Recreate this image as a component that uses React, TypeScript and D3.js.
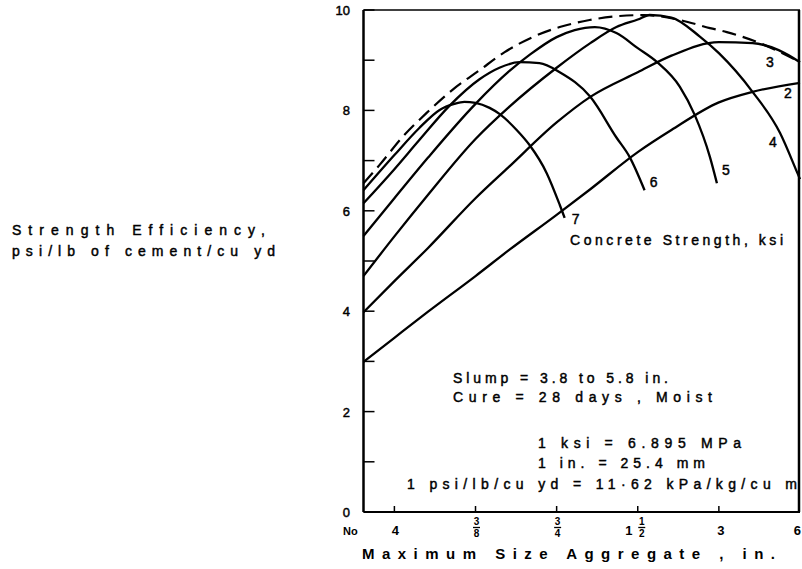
import React from 'react';
import * as d3 from 'd3';

// maximum size aggregate (in.) on the log axis
const sizeTicks = [0.1875, 0.375, 0.75, 1.5, 3, 6];
const valueTicks = [0, 1, 2, 3, 4, 5, 6, 7, 8, 9, 10];
const valueLabels = [0, 2, 4, 6, 8, 10];

// strength efficiency (psi/lb of cement/cu yd) for each concrete strength, ksi
const curve2: [number, number][] = [[0.144, 2.99], [0.1875, 3.47], [0.25, 3.99], [0.375, 4.70], [0.5, 5.22], [0.75, 5.92], [1.0, 6.43], [1.5, 7.17], [2.0, 7.61], [3.0, 8.16], [4.0, 8.37], [6.0, 8.55]];
const curve3: [number, number][] = [[0.144, 3.98], [0.1875, 4.60], [0.25, 5.26], [0.375, 6.25], [0.5, 6.88], [0.75, 7.76], [1.0, 8.27], [1.5, 8.76], [2.0, 9.09], [3.0, 9.36], [4.0, 9.34], [5.0, 9.2], [6.0, 8.96]];
const curve4: [number, number][] = [[0.144, 4.70], [0.1875, 5.49], [0.25, 6.32], [0.375, 7.43], [0.5, 8.07], [0.75, 8.85], [1.0, 9.34], [1.25, 9.66], [1.5, 9.81], [1.66, 9.90], [2.0, 9.85], [2.55, 9.47], [3.0, 9.14], [4.0, 8.37], [5.06, 7.55], [5.85, 6.77], [6.0, 6.63]];
const curve5: [number, number][] = [[0.144, 5.50], [0.1875, 6.25], [0.25, 7.06], [0.375, 8.13], [0.5, 8.78], [0.6, 9.12], [0.75, 9.46], [0.875, 9.60], [1.04, 9.66], [1.25, 9.54], [1.5, 9.24], [1.77, 8.96], [2.15, 8.47], [2.44, 7.91], [2.78, 7.07], [2.95, 6.55]];
const curve6: [number, number][] = [[0.144, 6.15], [0.1875, 6.83], [0.232, 7.41], [0.30, 8.09], [0.388, 8.62], [0.46, 8.85], [0.546, 8.96], [0.648, 8.94], [0.77, 8.76], [1.0, 8.27], [1.25, 7.46], [1.4, 7.07], [1.59, 6.41]];
const curve7: [number, number][] = [[0.144, 6.41], [0.1875, 7.11], [0.232, 7.65], [0.276, 8.01], [0.313, 8.13], [0.341, 8.17], [0.375, 8.15], [0.423, 8.05], [0.46, 7.93], [0.533, 7.61], [0.595, 7.31], [0.689, 6.75], [0.77, 6.12], [0.803, 5.86]];
// dashed envelope over all strengths
const envelope: [number, number][] = [[0.144, 6.55], [0.165, 6.91], [0.201, 7.47], [0.247, 7.95], [0.308, 8.41], [0.388, 8.80], [0.481, 9.16], [0.611, 9.46], [0.77, 9.66], [0.994, 9.80], [1.286, 9.88], [1.59, 9.90], [2.149, 9.80], [2.78, 9.64], [3.21, 9.56], [4.26, 9.34], [6.0, 8.96]];

const strengths = [2, 3, 4, 5, 6, 7];
const curves = [curve2, curve3, curve4, curve5, curve6, curve7];

const FONT = 'Liberation Sans, Arial, sans-serif';

const App = () => {
  const W = 802, H = 569;
  const left = 363.5, right = 800, top = 10, bottom = 512;

  const x = d3.scaleLog().base(2).domain([0.144, 6]).range([left, right]);
  const y = d3.scaleLinear().domain([0, 10]).range([bottom, top]);

  const line = d3.line<[number, number]>()
    .x(d => x(d[0]))
    .y(d => y(d[1]))
    .curve(d3.curveMonotoneX);

  // label placement relative to each curve end (px)
  const labelOffset: Record<number, [number, number]> = {
    2: [-12, 15], 3: [-30, 5], 4: [-27, -32], 5: [9, -8], 6: [9, -3], 7: [11, 6]
  };

  const frac = (cx: number, num: string, den: string) => (
    <g key={num + den + cx} fontSize={10} fontWeight="bold" textAnchor="middle">
      <text x={cx} y={525}>{num}</text>
      <line x1={cx - 3.5} x2={cx + 3.5} y1={527.5} y2={527.5} stroke="#000" strokeWidth={1.3} />
      <text x={cx} y={537}>{den}</text>
    </g>
  );

  const heavy = { stroke: '#000', strokeWidth: 0.45 };

  return (
    <svg width={W} height={H} style={{ position: 'absolute', left: 0, top: 0, background: '#fff' }} fontFamily={FONT}>
      {/* frame */}
      <line x1={left} x2={left} y1={top} y2={bottom} stroke="#000" strokeWidth={2.5} />
      <line x1={left} x2={right} y1={bottom} y2={bottom} stroke="#000" strokeWidth={2} />
      <line x1={left} x2={right} y1={top} y2={top} stroke="#000" strokeWidth={1.5} />
      <line x1={right - 1} x2={right - 1} y1={top} y2={bottom} stroke="#000" strokeWidth={2.5} />

      {/* y ticks */}
      {valueTicks.map(v => (
        <line key={'yt' + v} x1={left} x2={left + 11} y1={y(v)} y2={y(v)} stroke="#000" strokeWidth={1.5} />
      ))}
      {valueLabels.map(v => (
        <text key={'yl' + v} x={350} y={y(v) + 5} textAnchor="end" fontSize={13} {...heavy}>{v}</text>
      ))}

      {/* x ticks */}
      {sizeTicks.slice(0, -1).map(s => (
        <line key={'xt' + s} x1={x(s)} x2={x(s)} y1={bottom} y2={bottom - 6} stroke="#000" strokeWidth={1.5} />
      ))}
      <g fontSize={13} fontWeight="bold">
        <text x={343} y={535} fontSize={11}>No</text>
        <text x={x(0.1875) + 1} y={535} textAnchor="middle">4</text>
        {frac(x(0.375) + 1, '3', '8')}
        {frac(x(0.75) + 1, '3', '4')}
        <text x={x(1.5) - 9} y={535} textAnchor="middle">1</text>
        {frac(x(1.5) + 4, '1', '2')}
        <text x={x(3) + 2} y={535} textAnchor="middle">3</text>
        <text x={801} y={535} textAnchor="end">6</text>
      </g>

      {/* envelope */}
      <path d={line(envelope) || ''} fill="none" stroke="#000" strokeWidth={2.2} strokeDasharray="14,7" />

      {/* strength curves */}
      {curves.map((c, i) => (
        <path key={'c' + strengths[i]} d={line(c) || ''} fill="none" stroke="#000" strokeWidth={2.3} strokeLinejoin="round" />
      ))}
      {curves.map((c, i) => {
        const end = c[c.length - 1];
        const [dx, dy] = labelOffset[strengths[i]];
        return (
          <text key={'l' + strengths[i]} x={x(end[0]) + dx} y={y(end[1]) + dy} textAnchor="middle" fontSize={14} {...heavy}>
            {strengths[i]}
          </text>
        );
      })}

      {/* annotations */}
      <g fontSize={14} {...heavy}>
        <text x={570} y={245} textLength={213} lengthAdjust="spacing">Concrete Strength, ksi</text>
        <text x={453} y={383} textLength={215} lengthAdjust="spacing">Slump = 3.8 to 5.8 in.</text>
        <text x={453} y={402} textLength={259} lengthAdjust="spacing">Cure = 28 days , Moist</text>
        <text x={538} y={448} textLength={203} lengthAdjust="spacing">1 ksi = 6.895 MPa</text>
        <text x={538} y={468} textLength={167} lengthAdjust="spacing">1 in. = 25.4 mm</text>
        <text x={407} y={489} textLength={390} lengthAdjust="spacing">1 psi/lb/cu yd = 11·62 kPa/kg/cu m</text>
      </g>

      {/* axis titles */}
      <g fontSize={14} {...heavy}>
        <text x={12} y={235} textLength={253} lengthAdjust="spacing">Strength Efficiency,</text>
        <text x={12} y={256} textLength={263} lengthAdjust="spacing">psi/lb of cement/cu yd</text>
      </g>
      <text x={362} y={559} fontSize={15} fontWeight="bold" textLength={413} lengthAdjust="spacing">Maximum Size Aggregate , in.</text>
    </svg>
  );
};

export default App;
